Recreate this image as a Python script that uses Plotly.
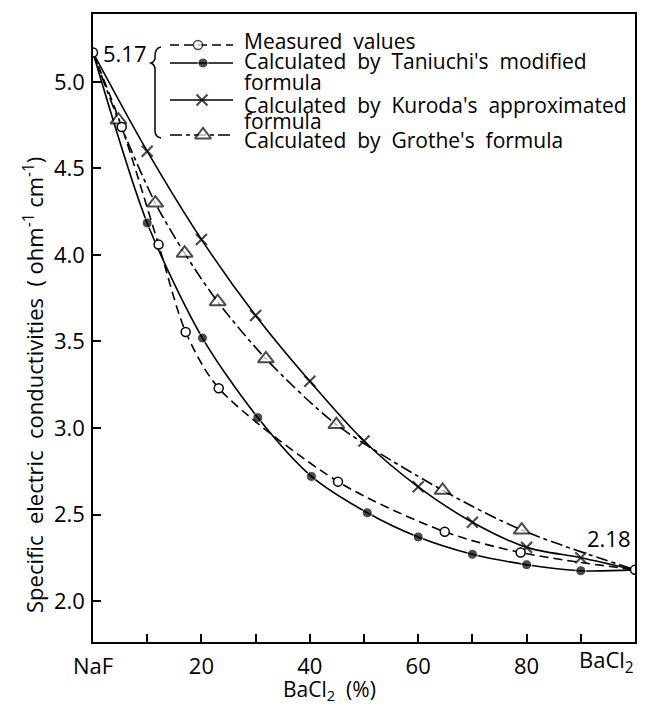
import plotly.graph_objects as go

# BaCl2 content (%) against specific electric conductivity (ohm^-1 cm^-1)
measured_x = [0, 5.3, 12.1, 17.1, 23.2, 45.2, 64.9, 78.9, 100]
measured_y = [5.17, 4.74, 4.06, 3.555, 3.23, 2.69, 2.40, 2.28, 2.18]

taniuchi_x = [0, 10, 20.2, 30.4, 40.3, 50.6, 60, 70, 80, 90, 100]
taniuchi_y = [5.17, 4.185, 3.52, 3.06, 2.72, 2.51, 2.37, 2.27, 2.21, 2.175, 2.18]

kuroda_x = [0, 10, 20, 30, 40, 50, 60, 70, 80, 90, 100]
kuroda_y = [5.17, 4.60, 4.09, 3.65, 3.27, 2.925, 2.66, 2.455, 2.31, 2.25, 2.18]

grothe_x = [0, 4.7, 11.5, 16.9, 23.0, 31.9, 44.9, 64.5, 79.1, 100]
grothe_y = [5.17, 4.78, 4.30, 4.01, 3.73, 3.40, 3.02, 2.64, 2.41, 2.18]

x_tickvals = [0, 20, 40, 60, 80]
x_ticktext = ["NaF", "20", "40", "60", "80"]
x_end_label = "BaCl<sub>2</sub>"
y_tickvals = [2.0, 2.5, 3.0, 3.5, 4.0, 4.5, 5.0]

legend_labels = [
    "Measured  values",
    "Calculated  by  Taniuchi's  modified",
    "formula",
    "Calculated  by  Kuroda's  approximated",
    "formula",
    "Calculated  by  Grothe's  formula",
]

W, H = 666, 706
L, R, T, B = 93, 31, 14, 64
FONT = "Open Sans, Roboto, Arial, sans-serif"
INK = "black"


def paper_x(p):
    return (p - L) / (W - L - R)


def paper_y(p):
    return (H - B - p) / (H - T - B)


def inner_sizes(n, size):
    # hide markers at the two pure-salt end points
    return [0] + [size] * (n - 2) + [0]


fig = go.Figure()

fig.add_trace(go.Scatter(
    x=taniuchi_x, y=taniuchi_y, mode="lines+markers",
    line=dict(color=INK, width=1.6, shape="spline", smoothing=0.8),
    marker=dict(symbol="circle", size=inner_sizes(len(taniuchi_x), 10), color=INK),
    showlegend=False,
))
fig.add_trace(go.Scatter(
    x=kuroda_x, y=kuroda_y, mode="lines+markers",
    line=dict(color=INK, width=1.6, shape="spline", smoothing=0.8),
    marker=dict(symbol="x-thin", size=inner_sizes(len(kuroda_x), 11),
                color=INK, line=dict(color=INK, width=2.2)),
    showlegend=False,
))
fig.add_trace(go.Scatter(
    x=grothe_x, y=grothe_y, mode="lines+markers",
    line=dict(color=INK, width=1.6, shape="spline", smoothing=0.8,
              dash="12px,4px,4px,4px"),
    marker=dict(symbol="triangle-up", size=inner_sizes(len(grothe_x), 14),
                color="white", line=dict(color=INK, width=2)),
    showlegend=False,
))
fig.add_trace(go.Scatter(
    x=measured_x, y=measured_y, mode="lines+markers",
    line=dict(color=INK, width=1.6, shape="spline", smoothing=0.8,
              dash="9px,5px"),
    marker=dict(symbol="circle", size=9, color="white",
                line=dict(color=INK, width=1.5)),
    showlegend=False,
))

# key samples, drawn on a pixel-scaled overlay axis pair
samples = [
    (45, "9px,5px", dict(symbol="circle", color="white", line=dict(color=INK, width=1.5)), 9, 198),
    (63, "solid", dict(symbol="circle", color=INK), 10, 203),
    (100, "solid", dict(symbol="x-thin", color=INK, line=dict(color=INK, width=2.2)), 11, 202),
    (135, "12px,4px,4px,4px", dict(symbol="triangle-up", color="white", line=dict(color=INK, width=2)), 14, 203),
]
for y_s, dash, mk, size, xm in samples:
    fig.add_trace(go.Scatter(
        x=[170, xm, 233], y=[y_s, y_s, y_s], mode="lines+markers",
        line=dict(color=INK, width=1.6, dash=dash),
        marker=dict(size=[0, size, 0], **mk),
        xaxis="x2", yaxis="y2", showlegend=False, cliponaxis=False,
    ))

# brace grouping the key entries
fig.add_shape(
    type="path", xref="x2", yref="y2",
    path="M 161,47 Q 155,48 155,56 L 155,59 Q 154,62 151,63 Q 154,64 155,68 "
         "L 155,131 Q 155,137 161,138",
    line=dict(color=INK, width=1.5),
)

annotations = []
for text, yc in zip(legend_labels, [41, 61, 82, 105, 121, 140]):
    annotations.append(dict(
        text=text, x=paper_x(242), y=paper_y(yc), xref="paper", yref="paper",
        xanchor="left", yanchor="middle", showarrow=False,
        font=dict(family=FONT, size=21, color=INK),
    ))

# end-point values
annotations.append(dict(
    text=f"{measured_y[0]:.2f}", x=measured_x[0], y=measured_y[0], xref="x", yref="y",
    xanchor="left", yanchor="middle", xshift=8, showarrow=False,
    font=dict(family=FONT, size=22, color=INK),
))
annotations.append(dict(
    text=f"{measured_y[-1]:.2f}", x=measured_x[-1], y=measured_y[-1], xref="x", yref="y",
    xanchor="right", yanchor="middle", xshift=-2, yshift=32, showarrow=False,
    font=dict(family=FONT, size=22, color=INK),
))

# right-hand end of the composition axis
annotations.append(dict(
    text=x_end_label, x=100, y=paper_y(661), xref="x", yref="paper",
    xanchor="right", yanchor="middle", xshift=1, showarrow=False,
    font=dict(family=FONT, size=22, color=INK),
))

# axis titles
annotations.append(dict(
    text="BaCl<sub>2</sub>  (%)", x=paper_x(329), y=paper_y(690),
    xref="paper", yref="paper", xanchor="center", yanchor="middle", showarrow=False,
    font=dict(family=FONT, size=21, color=INK),
))
annotations.append(dict(
    text="Specific  electric  conductivities  ( ohm<sup>-1</sup> cm<sup>-1</sup>)",
    x=paper_x(33), y=paper_y(385), xref="paper", yref="paper",
    xanchor="center", yanchor="middle", textangle=-90, showarrow=False,
    font=dict(family=FONT, size=22, color=INK),
))

axis_common = dict(
    showline=True, linecolor=INK, linewidth=1.5, mirror=True,
    ticks="inside", ticklen=8, tickwidth=1.5, tickcolor=INK,
    showgrid=False, zeroline=False,
    tickfont=dict(family=FONT, size=22, color=INK),
)

fig.update_layout(
    width=W, height=H,
    margin=dict(l=L, r=R, t=T, b=B),
    paper_bgcolor="white", plot_bgcolor="white",
    xaxis=dict(range=[0, 100], tickmode="array", tickvals=x_tickvals,
               ticktext=x_ticktext, ticklabelstandoff=4,
               minor=dict(dtick=10, tick0=0, ticks="inside", ticklen=8,
                          tickwidth=1.5, tickcolor=INK, showgrid=False),
               **axis_common),
    yaxis=dict(range=[1.763, 5.393], tickmode="array", tickvals=y_tickvals,
               ticktext=[f"{v:.1f}" for v in y_tickvals], ticklabelstandoff=2,
               **axis_common),
    xaxis2=dict(overlaying="x", range=[L, W - R], visible=False),
    yaxis2=dict(overlaying="y", range=[H - B, T], visible=False),
    annotations=annotations,
)

fig.write_html("out.html")
